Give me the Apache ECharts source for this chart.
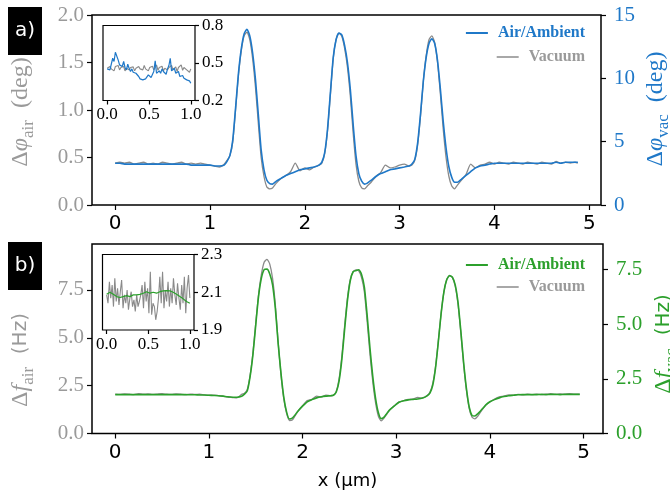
<!DOCTYPE html>
<html>
<head>
<meta charset="utf-8">
<script src="https://cdn.jsdelivr.net/npm/echarts@6/dist/echarts.min.js"></script>
<style>
  html, body { margin: 0; padding: 0; background: #fff; }
  #chart { width: 670px; height: 493px; }
</style>
</head>
<body>
<div id="chart"></div>
<script>
// ---------- panel a) phase shift along the scan line ----------
const xPhase = [
  0, 0.05, 0.1, 0.15, 0.2, 0.25, 0.3, 0.35, 0.4, 0.45, 0.5, 0.55, 0.6, 0.65, 0.7, 0.75, 0.8, 0.85, 0.9, 0.95, 1.0, 1.05, 1.1, 1.15,
  1.18, 1.21, 1.24, 1.27, 1.3, 1.33, 1.36, 1.39, 1.42, 1.45, 1.48, 1.51, 1.54, 1.57, 1.6, 1.63, 1.66,
  1.7, 1.75, 1.8, 1.85, 1.9, 1.95, 2.0, 2.05, 2.1, 2.15,
  2.18, 2.21, 2.24, 2.27, 2.3, 2.33, 2.36, 2.39, 2.42, 2.45, 2.48, 2.51, 2.54, 2.57, 2.6, 2.63, 2.66,
  2.7, 2.75, 2.8, 2.85, 2.9, 2.95, 3.0, 3.05, 3.1,
  3.13, 3.16, 3.19, 3.22, 3.25, 3.28, 3.31, 3.34, 3.37, 3.4, 3.43, 3.46, 3.49, 3.52, 3.55, 3.58, 3.61,
  3.65, 3.7, 3.75, 3.8, 3.85, 3.9, 3.95, 4.0, 4.05, 4.1, 4.15, 4.2, 4.25, 4.3, 4.35, 4.4, 4.45, 4.5, 4.55, 4.6, 4.65, 4.7, 4.75, 4.8, 4.85, 4.88
];
// vacuum phase (deg), left axis
const phaseVacuum = [
  0.44, 0.45, 0.44, 0.45, 0.43, 0.44, 0.45, 0.43, 0.44, 0.43, 0.45, 0.44, 0.43, 0.44, 0.45, 0.43, 0.44, 0.43, 0.44, 0.43, 0.42, 0.41, 0.40, 0.43,
  0.47, 0.52, 0.66, 1.00, 1.36, 1.62, 1.78, 1.82, 1.74, 1.54, 1.24, 0.86, 0.50, 0.30, 0.19, 0.17, 0.18,
  0.23, 0.28, 0.31, 0.35, 0.44, 0.36, 0.39, 0.37, 0.40, 0.42,
  0.44, 0.54, 0.78, 1.16, 1.54, 1.74, 1.81, 1.78, 1.65, 1.45, 1.15, 0.76, 0.43, 0.25, 0.18, 0.17, 0.20,
  0.24, 0.30, 0.34, 0.42, 0.39, 0.40, 0.42, 0.43, 0.41,
  0.42, 0.47, 0.63, 0.93, 1.30, 1.57, 1.74, 1.78, 1.71, 1.50, 1.17, 0.80, 0.50, 0.30, 0.20, 0.17, 0.21,
  0.26, 0.32, 0.43, 0.39, 0.42, 0.43, 0.45, 0.43, 0.45, 0.44, 0.43, 0.45, 0.44, 0.43, 0.45, 0.44, 0.43, 0.45, 0.44, 0.43, 0.46, 0.44, 0.45, 0.44, 0.45, 0.44
];
// air / ambient phase (deg), right axis
const phaseAir = [
  3.30, 3.30, 3.23, 3.23, 3.23, 3.23, 3.23, 3.23, 3.23, 3.23, 3.23, 3.23, 3.23, 3.23, 3.23, 3.23, 3.15, 3.15, 3.15, 3.15, 3.15, 3.08, 3.08, 3.15,
  3.45, 3.90, 5.10, 7.65, 10.35, 12.30, 13.50, 13.88, 13.35, 12.00, 9.90, 7.13, 4.35, 2.78, 1.95, 1.69, 1.65,
  1.88, 2.10, 2.33, 2.48, 2.63, 2.78, 2.85, 2.93, 3.00, 3.15,
  3.38, 4.13, 6.00, 8.85, 11.63, 13.05, 13.58, 13.43, 12.60, 11.25, 9.15, 6.38, 3.90, 2.48, 1.88, 1.65, 1.73,
  1.95, 2.25, 2.48, 2.63, 2.78, 2.85, 2.93, 3.00, 3.08,
  3.23, 3.60, 4.88, 7.13, 9.75, 11.63, 12.75, 13.13, 12.75, 11.40, 9.15, 6.60, 4.50, 3.00, 2.18, 1.80, 1.80,
  2.03, 2.33, 2.63, 2.93, 3.08, 3.15, 3.23, 3.30, 3.30, 3.30, 3.30, 3.30, 3.30, 3.30, 3.30, 3.30, 3.30, 3.30, 3.30, 3.30, 3.38, 3.30, 3.38, 3.38, 3.38, 3.38
];

// zoomed first micron, shared sampling
const xInset = [
  0, 0.016, 0.033, 0.049, 0.066, 0.082, 0.098, 0.115, 0.131, 0.148, 0.164, 0.18, 0.197, 0.213, 0.23, 0.246,
  0.262, 0.279, 0.295, 0.311, 0.328, 0.344, 0.361, 0.377, 0.393, 0.41, 0.426, 0.443, 0.459, 0.475, 0.492,
  0.508, 0.525, 0.541, 0.557, 0.574, 0.59, 0.607, 0.623, 0.639, 0.656, 0.672, 0.689, 0.705, 0.721, 0.738,
  0.754, 0.77, 0.787, 0.803, 0.82, 0.836, 0.852, 0.869, 0.885, 0.902, 0.918, 0.934, 0.951, 0.967, 0.984, 1.0
];
const phaseVacuumInset = [
  0.458, 0.445, 0.472, 0.453, 0.464, 0.437, 0.472, 0.458, 0.480, 0.445, 0.464, 0.453, 0.472, 0.437, 0.458, 0.472,
  0.445, 0.464, 0.453, 0.469, 0.437, 0.458, 0.445, 0.472, 0.453, 0.464, 0.445, 0.480, 0.453, 0.469, 0.437,
  0.464, 0.453, 0.474, 0.445, 0.464, 0.485, 0.442, 0.464, 0.453, 0.474, 0.437, 0.458, 0.469, 0.445, 0.464,
  0.453, 0.480, 0.445, 0.458, 0.469, 0.432, 0.464, 0.453, 0.485, 0.442, 0.464, 0.474, 0.445, 0.458, 0.426, 0.453
];
const phaseAirInset = [
  0.453, 0.437, 0.445, 0.490, 0.538, 0.512, 0.586, 0.597, 0.525, 0.485, 0.498, 0.472, 0.512, 0.464, 0.445, 0.490,
  0.458, 0.432, 0.453, 0.426, 0.437, 0.418, 0.410, 0.392, 0.373, 0.384, 0.365, 0.378, 0.373, 0.384, 0.405,
  0.392, 0.384, 0.400, 0.432, 0.517, 0.418, 0.405, 0.437, 0.418, 0.453, 0.432, 0.445, 0.410, 0.453, 0.480,
  0.538, 0.437, 0.445, 0.458, 0.418, 0.405, 0.432, 0.392, 0.384, 0.400, 0.378, 0.384, 0.365, 0.373, 0.357, 0.338
];

// ---------- panel b) frequency shift along the scan line ----------
const xFreq = [
  0, 0.05, 0.1, 0.15, 0.2, 0.25, 0.3, 0.35, 0.4, 0.45, 0.5, 0.55, 0.6, 0.65, 0.7, 0.75, 0.8, 0.85, 0.9, 0.95, 1.0, 1.05, 1.1, 1.15, 1.2, 1.25, 1.3, 1.35,
  1.38, 1.41, 1.44, 1.47, 1.5, 1.53, 1.56, 1.59, 1.62, 1.65, 1.68, 1.71, 1.74, 1.77, 1.8, 1.83, 1.86, 1.89, 1.92, 1.95,
  2.0, 2.05, 2.1, 2.15, 2.2, 2.25, 2.3,
  2.33, 2.36, 2.39, 2.42, 2.45, 2.48, 2.51, 2.54, 2.57, 2.6, 2.63, 2.66, 2.69, 2.72, 2.75, 2.78, 2.81, 2.84, 2.87, 2.9, 2.93,
  2.98, 3.03, 3.08, 3.13, 3.18, 3.23, 3.28, 3.33,
  3.36, 3.39, 3.42, 3.45, 3.48, 3.51, 3.54, 3.57, 3.6, 3.63, 3.66, 3.69, 3.72, 3.75, 3.78, 3.81, 3.84, 3.87, 3.9, 3.93, 3.96,
  4.0, 4.05, 4.1, 4.15, 4.2, 4.25, 4.3, 4.35, 4.4, 4.45, 4.5, 4.55, 4.6, 4.65, 4.7, 4.75, 4.8, 4.85, 4.9, 4.96
];
// vacuum frequency shift (Hz), left axis
const freqVacuum = [
  2.06, 2.04, 2.07, 2.05, 2.03, 2.08, 2.05, 2.07, 2.04, 2.06, 2.08, 2.05, 2.04, 2.07, 2.05, 2.03, 2.06, 2.04, 2.05, 2.02, 2.00, 2.01, 1.98, 1.95, 1.90, 1.88, 1.86, 2.05,
  2.10, 2.30, 3.05, 4.20, 5.75, 7.25, 8.30, 8.95, 9.10, 8.85, 8.10, 6.70, 4.75, 3.05, 1.80, 1.05, 0.68, 0.70, 0.92, 1.15,
  1.45, 1.72, 1.78, 1.95, 1.90, 2.00, 1.97,
  2.00, 2.20, 2.85, 4.05, 5.65, 7.10, 8.05, 8.45, 8.55, 8.50, 8.15, 7.40, 5.85, 4.15, 2.70, 1.60, 0.90, 0.66, 0.80, 1.02, 1.22,
  1.45, 1.65, 1.72, 1.78, 1.80, 1.88, 1.85, 1.98,
  2.15, 2.60, 3.50, 4.85, 6.30, 7.40, 8.05, 8.24, 8.15, 7.70, 6.75, 5.25, 3.60, 2.25, 1.30, 0.85, 0.76, 0.90, 1.12, 1.32, 1.50,
  1.65, 1.80, 1.92, 1.95, 2.02, 2.00, 2.04, 2.02, 2.05, 2.03, 2.06, 2.03, 2.05, 2.08, 2.04, 2.07, 2.05, 2.08, 2.05, 2.06
];
// air / ambient frequency shift (Hz), right axis
const freqAir = [
  1.78, 1.78, 1.78, 1.78, 1.78, 1.78, 1.78, 1.78, 1.78, 1.78, 1.78, 1.78, 1.78, 1.78, 1.78, 1.78, 1.77, 1.77, 1.76, 1.76, 1.75, 1.74, 1.73, 1.71, 1.68, 1.66, 1.66, 1.70,
  1.80, 1.95, 2.60, 3.60, 4.95, 6.26, 7.10, 7.50, 7.52, 7.30, 6.80, 5.70, 4.10, 2.75, 1.65, 0.98, 0.66, 0.70, 0.85, 1.02,
  1.25, 1.45, 1.55, 1.63, 1.68, 1.71, 1.73,
  1.75, 1.90, 2.40, 3.40, 4.80, 6.10, 7.00, 7.40, 7.45, 7.49, 7.28, 6.70, 5.40, 3.90, 2.60, 1.60, 0.95, 0.68, 0.75, 0.92, 1.08,
  1.26, 1.43, 1.50, 1.54, 1.56, 1.58, 1.62, 1.72,
  1.85, 2.20, 3.00, 4.20, 5.50, 6.50, 7.05, 7.23, 7.15, 6.80, 6.00, 4.70, 3.25, 2.05, 1.20, 0.82, 0.80, 0.90, 1.03, 1.18, 1.32,
  1.45, 1.55, 1.63, 1.69, 1.73, 1.75, 1.77, 1.78, 1.78, 1.78, 1.78, 1.79, 1.78, 1.79, 1.79, 1.78, 1.79, 1.79, 1.79, 1.79
];

// zoomed first micron of panel b)
const freqVacuumInset = [
  2.086, 2.042, 2.156, 2.068, 2.138, 2.024, 2.174, 2.051, 2.121, 2.033, 2.103, 2.165, 2.016, 2.086, 2.042, 2.112,
  2.007, 2.068, 2.103, 2.024, 2.060, 1.998, 2.086, 2.024, 2.051, 2.086, 2.138, 2.016, 2.156, 2.051, 2.121,
  1.989, 2.209, 1.981, 2.042, 2.024, 1.954, 1.998, 2.068, 2.182, 2.042, 2.209, 2.016, 2.112, 2.051, 2.156,
  2.024, 2.121, 2.042, 2.174, 2.086, 2.033, 2.147, 2.068, 2.007, 2.138, 2.042, 2.182, 1.989, 2.121, 2.191, 2.070
];
const xFreqAirInset = [
  0, 0.04, 0.08, 0.12, 0.16, 0.2, 0.24, 0.28, 0.32, 0.36, 0.4, 0.44, 0.48,
  0.52, 0.56, 0.6, 0.64, 0.68, 0.72, 0.76, 0.8, 0.84, 0.88, 0.92, 0.96, 1.0
];
const freqAirInset = [
  2.089, 2.100, 2.089, 2.077, 2.072, 2.077, 2.082, 2.077, 2.086, 2.086, 2.089, 2.095, 2.103,
  2.095, 2.100, 2.095, 2.103, 2.107, 2.109, 2.107, 2.100, 2.089, 2.077, 2.065, 2.051, 2.042
];

// ---------- tick positions ----------
const xTicks = [0, 1, 2, 3, 4, 5];
const phaseTicks = [0, 0.5, 1, 1.5, 2];
const phaseVacTicks = [0, 5, 10, 15];
const freqTicks = [0, 2.5, 5, 7.5];
const insetXTicks = [0, 0.5, 1.0];
const phaseInsetTicks = [0.2, 0.5, 0.8];
const freqInsetTicks = [1.9, 2.1, 2.3];

// ---------- styling ----------
const BLUE = '#1f78c8';
const GREEN = '#2ca02c';
const GRAY = '#8a8a8a';
const LABEL_GRAY = '#9a9a9a';
const SERIF = 'Liberation Serif';
const SANS = 'DejaVu Sans';

const pairs = (xs, ys) => xs.map((x, i) => [x, ys[i]]);

const tick = (len) => ({ show: true, inside: false, length: len, lineStyle: { color: '#000', width: 1.2 } });
const noLine = { show: false, onZero: false };

function mainX(gridIndex, min, max) {
  return {
    type: 'value', gridIndex, min, max,
    axisLine: noLine,
    splitLine: { show: false },
    axisTick: Object.assign(tick(5), { customValues: xTicks }),
    axisLabel: { customValues: xTicks, fontFamily: SANS, fontSize: 20, color: '#000', margin: 9 }
  };
}
function insetX(gridIndex) {
  return {
    type: 'value', gridIndex, min: -0.05, max: 1.05,
    axisLine: noLine,
    splitLine: { show: false },
    axisTick: Object.assign(tick(4), { customValues: insetXTicks }),
    axisLabel: { customValues: insetXTicks, formatter: v => v.toFixed(1), fontFamily: SERIF, fontSize: 17, color: '#000', margin: 6 }
  };
}
function mainY(gridIndex, position, min, max, ticks, color, fmt, margin) {
  return {
    type: 'value', gridIndex, position, min, max,
    axisLine: noLine,
    splitLine: { show: false },
    axisTick: Object.assign(tick(5), { customValues: ticks }),
    axisLabel: { customValues: ticks, formatter: fmt, fontFamily: SERIF, fontSize: 21, color, margin }
  };
}
function insetY(gridIndex, min, max, ticks) {
  return {
    type: 'value', gridIndex, position: 'right', min, max,
    axisLine: noLine,
    splitLine: { show: false },
    axisTick: Object.assign(tick(4), { customValues: ticks }),
    axisLabel: { customValues: ticks, formatter: v => v.toFixed(1), fontFamily: SERIF, fontSize: 17, color: '#000', margin: 7 }
  };
}

function lineSeries(name, x, y, xi, yi, color, width, smooth, z) {
  return {
    type: 'line', name, xAxisIndex: xi, yAxisIndex: yi,
    data: pairs(x, y), showSymbol: false, symbol: 'none', smooth,
    lineStyle: { color, width }, itemStyle: { color }, z, clip: true
  };
}

function legendEntry(name, color, lineColor, top) {
  return {
    right: 85, top, padding: 0, orient: 'vertical', selectedMode: false,
    icon: 'rect', itemWidth: 22, itemHeight: 2,
    data: [{ name, itemStyle: { color: lineColor }, textStyle: { color } }],
    textStyle: { fontFamily: SERIF, fontWeight: 'bold', fontSize: 16, color, padding: [0, 0, 0, 5] }
  };
}

// rotated axis title with a lowered subscript
function yTitle(x, y, parts, color) {
  return {
    type: 'text', x, y, rotation: Math.PI / 2, silent: true,
    style: {
      text: parts, align: 'center', verticalAlign: 'middle', fill: color,
      rich: {
        d: { fontFamily: SERIF, fontSize: 24, lineHeight: 32, fill: color, verticalAlign: 'middle' },
        i: { fontFamily: SERIF, fontStyle: 'italic', fontSize: 24, lineHeight: 32, fill: color, verticalAlign: 'middle' },
        s: { fontFamily: SERIF, fontSize: 17, lineHeight: 17, fill: color, verticalAlign: 'bottom' },
        h: { fontFamily: SANS, fontSize: 20, lineHeight: 32, fill: color, verticalAlign: 'middle' }
      }
    }
  };
}

function panelTag(y, label) {
  return [
    { type: 'rect', silent: true, shape: { x: 8, y, width: 34, height: 48 }, style: { fill: '#000' } },
    { type: 'text', silent: true, x: 25, y: y + 24, style: { text: label, fill: '#fff', font: '20px "DejaVu Sans"', align: 'center', verticalAlign: 'middle' } }
  ];
}

const chart = echarts.init(document.getElementById('chart'), null, { renderer: 'canvas' });
chart.setOption({
  animation: false,
  backgroundColor: '#fff',
  grid: [
    { left: 92, top: 15, width: 509, height: 190, show: true, borderColor: '#000', borderWidth: 1.5, backgroundColor: 'transparent' },
    { left: 103, top: 25.5, width: 92, height: 75, show: true, borderColor: '#000', borderWidth: 1.2, backgroundColor: '#fff' },
    { left: 92, top: 244, width: 511, height: 189.5, show: true, borderColor: '#000', borderWidth: 1.5, backgroundColor: 'transparent' },
    { left: 102.5, top: 254.5, width: 91.5, height: 75.5, show: true, borderColor: '#000', borderWidth: 1.2, backgroundColor: '#fff' }
  ],
  xAxis: [
    mainX(0, -0.244, 5.124),
    insetX(1),
    Object.assign(mainX(2, -0.248, 5.208), {
      name: 'x (μm)', nameLocation: 'middle', nameGap: 39,
      nameTextStyle: { fontFamily: SANS, fontSize: 18, color: '#000' }
    }),
    insetX(3)
  ],
  yAxis: [
    mainY(0, 'left', 0, 2, phaseTicks, LABEL_GRAY, v => v.toFixed(1), 8),
    mainY(0, 'right', 0, 15, phaseVacTicks, BLUE, v => String(v), 13),
    insetY(1, 0.2, 0.8, phaseInsetTicks),
    mainY(2, 'left', 0, 9.9, freqTicks, LABEL_GRAY, v => v.toFixed(1), 8),
    mainY(2, 'right', 0, 8.67, freqTicks, GREEN, v => v.toFixed(1), 13),
    insetY(3, 1.9, 2.3, freqInsetTicks)
  ],
  legend: [
    legendEntry('Air/Ambient', BLUE, BLUE, 25),
    legendEntry('Vacuum', LABEL_GRAY, '#a8a8a8', 49),
    legendEntry('Air/Ambient', GREEN, GREEN, 257),
    legendEntry('Vacuum', LABEL_GRAY, '#a8a8a8', 279)
  ],
  series: [
    lineSeries('Vacuum', xPhase, phaseVacuum, 0, 0, GRAY, 1.3, 0.2, 2),
    lineSeries('Air/Ambient', xPhase, phaseAir, 0, 1, BLUE, 1.6, 0.2, 3),
    lineSeries('Vacuum', xInset, phaseVacuumInset, 1, 2, GRAY, 1.1, false, 4),
    lineSeries('Air/Ambient', xInset, phaseAirInset, 1, 2, BLUE, 1.2, false, 5),
    lineSeries('Vacuum', xFreq, freqVacuum, 2, 3, GRAY, 1.3, 0.2, 2),
    lineSeries('Air/Ambient', xFreq, freqAir, 2, 4, GREEN, 1.6, 0.2, 3),
    lineSeries('Vacuum', xInset, freqVacuumInset, 3, 5, GRAY, 1.1, false, 4),
    lineSeries('Air/Ambient', xFreqAirInset, freqAirInset, 3, 5, GREEN, 1.2, false, 5)
  ],
  graphic: [
    ...panelTag(7, 'a)'),
    ...panelTag(242, 'b)'),
    yTitle(21, 112, '{d|Δ}{i|φ}{s|air}{d|  (deg)}', LABEL_GRAY),
    yTitle(656, 109, '{d|Δ}{i|φ}{s|vac}{d|  (deg)}', BLUE),
    yTitle(21, 360, '{d|Δ}{i|f}{s|air}{h|  (Hz)}', LABEL_GRAY),
    yTitle(664, 344, '{d|Δ}{i|f}{s|vac}{h|  (Hz)}', GREEN)
  ]
});
</script>
</body>
</html>
